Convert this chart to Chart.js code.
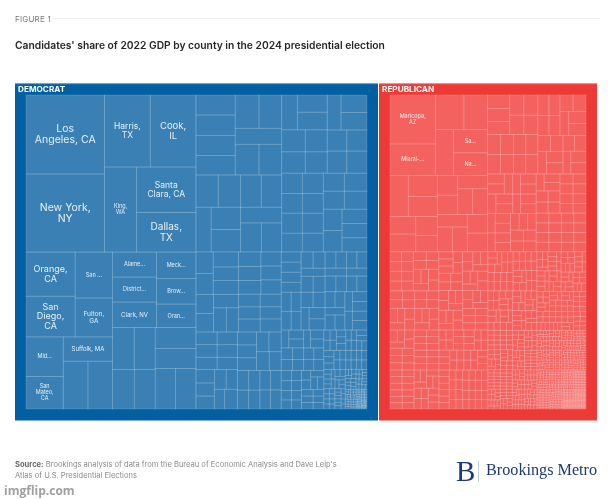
<!DOCTYPE html>
<html>
<head>
<meta charset="utf-8">
<title>Candidates' share of 2022 GDP by county</title>
<script src="https://cdn.jsdelivr.net/npm/chart.js@4"></script>
<style>
  html, body { margin: 0; background: #fff; }
  body { position: relative; width: 616px; height: 499px; overflow: hidden; font-family: Inter, sans-serif; }
  canvas { position: absolute; left: 0; top: 0; }
  .txt { position: absolute; white-space: nowrap; }
  #fig { left: 15px; top: 14px; font-size: 8px; color: #7a7a7a; letter-spacing: .2px; }
  #figline { position: absolute; left: 52px; top: 18px; width: 548px; height: 1px; background: #f0f0f0; }
  #title { left: 15px; top: 39px; font-size: 10.27px; font-weight: 600; color: #26262a; }
  #source { left: 15px; top: 459px; font-size: 7.55px; line-height: 11px; color: #8a8a8a; }
  #source b { color: #666; font-weight: 700; }
  #wm { left: 4px; top: 482px; font-size: 12px; font-weight: 700; color: #a0a0a0; font-family: "Open Sans", sans-serif; }
  #logoB { left: 456px; top: 455px; font: 29px "Liberation Serif", serif; color: #1d3a78; }
  #logoBar { position: absolute; left: 478px; top: 461px; width: 1px; height: 21px; background: #c3cbdc; }
  #logoT { left: 486px; top: 461px; font: 16.2px "Liberation Serif", serif; color: #1d3a78; }
</style>
</head>
<body>
<canvas id="chart" width="616" height="499"></canvas>
<div class="txt" id="fig">FIGURE 1</div><div id="figline"></div>
<div class="txt" id="title">Candidates' share of 2022 GDP by county in the 2024 presidential election</div>
<div class="txt" id="source"><b>Source:</b> Brookings analysis of data from the Bureau of Economic Analysis and Dave Leip's<br>Atlas of U.S. Presidential Elections</div>
<div class="txt" id="wm">imgflip.com</div>
<div class="txt" id="logoB">B</div><div id="logoBar"></div><div class="txt" id="logoT">Brookings Metro</div>
<script>
// tile labels, same order as the values (null = no label)
const demNames = ["Los\nAngeles, CA", "New York,\nNY", "Harris,\nTX", "Cook,\nIL", "King,\nWA", "Santa\nClara, CA", "Dallas,\nTX",
  "Orange,\nCA", "San\nDiego,\nCA", "San ...", "Fulton,\nGA", "Mid...", "San\nMateo,\nCA", "Suffolk, MA", null, null,
  "Alame...", "District...", "Clark, NV", "Meck...", "Brow...", "Oran..."];
const repNames = ["Maricopa,\nAZ", "Miami-...", null, null, null, "Sa...", "Na..."];

const demLargest = [6200, 6123, 3300, 3290, 2737, 2698, 2342,
  2170, 2000, 1720, 1460, 1473, 1212, 1200, 1179, 1179,
  1095, 1095, 1117, 1047, 1007, 928,
  903, 878, 857, 830, 846, 818, 826, 822];
const demMiddle = [786, 798, 802, 759, 790, 756, 742, 728, 697,
  720, 723, 680, 658, 659, 665, 659, 644, 600, 590,
  546, 514, 526, 519, 503, 484, 469,
  480, 452, 457, 413, 427, 432, 447,
  420, 404, 428, 412, 412, 385, 420, 393,
  378, 378, 409, 409, 400, 400, 360, 353, 353,
  373, 360, 382, 346, 346, 337, 324, 339, 310, 296,
  327, 315, 303, 287, 280, 290, 275, 263, 280, 266, 254,
  275, 270, 265, 262, 258, 254, 250, 246, 242, 238, 232, 220, 205,
  250, 248, 246, 246, 244, 242, 240, 225, 222, 218, 214, 210, 208, 204, 202];
const demSmall = [205, 203, 201, 200, 198, 196, 195, 193, 192, 190, 189, 188, 186, 185, 184, 183, 182, 181,
  178, 176, 174, 172, 170, 168, 166, 164, 162, 160, 158, 156, 154, 152, 150, 148, 146, 144, 142, 140, 138,
  138, 136, 134, 132, 130, 128, 126, 124, 122, 120, 118, 116, 114, 112,
  112, 108, 104, 100, 98, 96, 94, 92, 90, 88, 86, 84, 82, 80, 78, 76, 74, 72, 70, 68,
  64, 64, 64, 64, 64, 64, 64, 64, 64, 64, 56, 56, 56, 56, 56, 56, 56, 56, 56, 56, 50, 50, 50, 50, 50, 50, 50, 50, 50, 50,
  36, 36, 36, 36, 36, 36, 36, 36, 36, 36, 28, 28, 28, 28, 28, 28, 28, 28, 28, 28, 21, 21, 21, 21, 21, 21, 21, 21, 21, 21,
  20, 20, 20, 20, 20, 20, 20, 20, 20, 20, 15, 15, 15, 15, 15, 15, 15, 15, 15, 15, 15, 15, 15, 15, 15,
  9, 9, 9, 9, 9, 8, 8, 8, 8, 8, 8, 8, 8, 8, 8, 7, 7, 7, 7, 7, 7, 7, 7, 7, 7, 7, 7,
  5, 5, 5, 5, 5, 5, 5, 5, 5, 5, 4, 4, 4, 4, 4, 4, 4, 4, 4, 4, 4, 4, 4, 4, 4, 4, 4, 4, 4, 4,
  3, 3, 3, 3, 3, 3, 3, 3, 3, 3, 3, 3, 3, 3, 3, 3, 3, 3, 3, 3, 2, 2, 2, 2, 2, 2, 2, 2, 2, 2, 2, 2, 2, 2, 2, 2, 2, 2, 2, 2];

const repLargest = [2220, 1436, 990, 814, 828, 790, 774,
  750, 609, 580, 452, 455, 410, 352,
  400, 395, 390, 385, 380, 375, 370, 370, 375, 375,
  300, 295, 290, 285, 280, 275, 270, 265, 260, 255, 250, 245, 240, 235, 233,
  229, 226, 223, 220, 217, 214, 211, 208, 205, 202, 199, 196, 189, 186, 183, 180, 177, 174, 171, 168,
  170, 169, 167, 166, 165, 158, 157, 155, 154, 152, 151, 150, 149, 148, 146, 145, 144, 143, 142, 141, 140, 139, 138, 137, 136,
  135, 134, 133, 133, 132, 131, 130, 130, 129, 128, 127, 127, 126, 125, 125, 124, 124, 123, 122, 122, 121, 121, 120, 120, 119, 118, 118, 117, 117, 116];
const repMiddle = [114, 114, 114, 114, 114, 114, 114, 114, 114, 114, 110, 110, 110, 110, 110, 110, 110, 110, 110, 110,
  106, 106, 106, 106, 106, 106, 106, 106, 106, 106, 104, 104, 104, 104, 104,
  102, 102, 102, 102, 102, 102, 102, 102, 102, 102, 98, 98, 98, 98, 98, 98, 98, 98, 98, 98,
  94, 94, 94, 94, 94, 94, 94, 94, 94, 94, 90, 90, 90, 90, 90, 90, 90, 90, 90, 90,
  88, 88, 88, 88, 88, 88, 88, 88, 88, 88, 84, 84, 84, 84, 84, 84, 84, 84, 84, 84,
  80, 80, 80, 80, 80, 80, 80, 80, 80, 80, 76, 76, 76, 76, 76, 76, 76, 76, 76, 76, 74, 74, 74, 74, 74, 74, 74, 74,
  72, 72, 72, 72, 72, 72, 72, 72, 72, 72, 70, 70, 70, 70, 70, 70, 70, 70, 70, 70,
  68, 68, 68, 68, 68, 68, 68, 68, 68, 68, 66, 66, 66, 66, 66, 66, 66, 66, 66, 66,
  64, 64, 64, 64, 64, 64, 64, 64, 64, 64, 59, 59, 59, 59, 59, 59, 59, 59];
const repSmall = [58, 58, 58, 58, 58, 58, 58, 58, 58, 58, 58, 58, 58, 58, 58, 58, 58, 58, 58, 58,
  54, 54, 54, 54, 54, 54, 54, 54, 54, 54, 54, 54, 54, 54, 54, 54, 54, 54, 54, 54,
  50, 50, 50, 50, 50, 50, 50, 50, 50, 50, 50, 50, 50, 50, 50, 50, 50, 50, 50, 50,
  44, 44, 44, 44, 44, 44, 44, 44, 44, 44, 44, 44, 44, 44, 44,
  42, 42, 42, 42, 42, 42, 42, 42, 42, 42, 42, 42, 42, 42, 42, 42, 42, 42, 42, 42,
  39, 39, 39, 39, 39, 39, 39, 39, 39, 39, 39, 39, 39, 39, 39, 39, 39, 39, 39, 39,
  36, 36, 36, 36, 36, 36, 36, 36, 36, 36, 36, 36, 36, 36, 36, 36, 36, 36, 36, 36,
  34, 34, 34, 34, 34, 34, 34, 34, 34, 34, 34, 34, 34, 34, 34, 34, 34, 34, 34, 34,
  32, 32, 32, 32, 32, 32, 32, 32, 32, 32, 32, 32, 32, 32, 32, 32, 32, 32, 32, 32,
  28, 28, 28, 28, 28,
  30, 30, 30, 30, 30, 30, 30, 30, 30, 30, 30, 30, 30, 30, 30, 30, 30, 30, 30, 30,
  27, 27, 27, 27, 27, 27, 27, 27, 27, 27, 27, 27, 27, 27, 27, 27, 27, 27, 27, 27,
  25, 25, 25, 25, 25, 25, 25, 25, 25, 25, 25, 25, 25, 25, 25, 25, 25, 25, 25, 25,
  20, 20, 20, 20, 20, 20, 20, 20, 20, 20, 20, 20, 20, 20, 20,
  20, 20, 20, 20, 20, 20, 20, 20, 20, 20, 20, 20, 20, 20, 20, 20, 20, 20, 20, 20,
  19, 19, 19, 19, 19, 19, 19, 19, 19, 19, 19, 19, 19, 19, 19, 19, 19, 19, 19, 19,
  18, 18, 18, 18, 18, 18, 18, 18, 18, 18, 18, 18, 18, 18, 18, 18, 18, 18, 18, 18,
  16, 16, 16, 16, 16, 16, 16, 16, 16, 16, 16, 16, 16, 16, 16, 16, 16, 16, 16, 16,
  14, 14, 14, 14, 14, 14, 14, 14, 14, 14, 14, 14, 14, 14, 14, 14, 14, 14, 14, 14,
  13, 13, 13, 13, 13, 13, 13, 13, 13, 13, 13, 13, 13, 13, 13];
const repTiny = [13, 13, 13, 13, 13, 13, 13, 13, 13, 13, 13, 13, 13, 13, 13, 13, 13, 13, 13, 13,
  12, 12, 12, 12, 12, 12, 12, 12, 12, 12, 12, 12, 12, 12, 12, 12, 12, 12, 12, 12,
  11, 11, 11, 11, 11, 11, 11, 11, 11, 11, 11, 11, 11, 11, 11, 11, 11, 11, 11, 11,
  10, 10, 10, 10, 10, 10, 10, 10, 10, 10, 10, 10, 10, 10, 10, 10, 10, 10, 10, 10,
  10, 10, 10, 10, 10, 10, 10, 10, 10, 10, 10, 10, 10, 10, 10, 10, 10, 10, 10, 10,
  9, 9, 9, 9, 9, 9, 9, 9, 9, 9, 9, 9, 9, 9, 9, 9, 9, 9, 9, 9,
  9, 9, 9, 9, 9, 9, 9, 9, 9, 9, 9, 9, 9, 9, 9, 9, 9, 9, 9, 9,
  8, 8, 8, 8, 8, 8, 8, 8, 8, 8, 8, 8, 8, 8, 8, 8, 8, 8, 8, 8,
  8, 8, 8, 8, 8, 8, 8, 8, 8, 8, 8, 8, 8, 8, 8, 8, 8, 8, 8, 8,
  7, 7, 7, 7, 7, 7, 7, 7, 7, 7, 7, 7, 7, 7, 7, 7, 7, 7, 7, 7,
  7, 7, 7, 7, 7, 7, 7, 7, 7, 7, 7, 7, 7, 7, 7, 7, 7, 7, 7, 7,
  6, 6, 6, 6, 6, 6, 6, 6, 6, 6, 6, 6, 6, 6, 6, 6, 6, 6, 6, 6,
  6, 6, 6, 6, 6, 6, 6, 6, 6, 6, 6, 6, 6, 6, 6, 6, 6, 6, 6, 6,
  5, 5, 5, 5, 5, 5, 5, 5, 5, 5, 5, 5, 5, 5, 5, 5, 5, 5, 5, 5,
  5, 5, 5, 5, 5, 5, 5, 5, 5, 5, 5, 5, 5, 5, 5, 5, 5, 5, 5, 5,
  5, 5, 5, 5, 5, 5, 5, 5, 5, 5, 5, 5, 5, 5, 5, 5, 5, 5, 5, 5,
  5, 5, 5, 5, 5, 5, 5, 5, 5, 5, 5, 5, 5, 5, 5, 5, 5, 5, 5, 5,
  4, 4, 4, 4, 4, 4, 4, 4, 4, 4, 4, 4, 4, 4, 4, 4, 4, 4, 4, 4,
  4, 4, 4, 4, 4, 4, 4, 4, 4, 4, 4, 4, 4, 4, 4, 4, 4, 4, 4, 4,
  4, 4, 4, 4, 4, 4, 4,
  4, 4, 4, 4, 4, 4, 4, 4, 4, 4, 4, 4, 4, 4, 4, 4, 4, 4, 4, 4,
  4, 4, 4, 4, 4, 4, 4, 4, 4, 4, 4, 4, 4, 4, 4, 4, 4, 4, 4, 4,
  4, 4, 4, 4, 4, 4, 4, 4, 4, 4, 4, 4, 4, 4, 4, 4, 4, 4, 4, 4,
  3, 3, 3, 3, 3, 3, 3, 3, 3, 3, 3, 3, 3, 3, 3, 3, 3, 3, 3, 3,
  3, 3, 3, 3, 3, 3, 3, 3, 3, 3, 3, 3, 3, 3, 3, 3, 3, 3, 3, 3,
  3, 3, 3, 3, 3, 3, 3, 3, 3, 3, 3, 3, 3, 3, 3, 3, 3, 3, 3, 3,
  3, 3, 3, 3, 3, 3, 3, 3, 3, 3, 3, 3, 3, 3, 3, 3, 3, 3, 3, 3,
  3, 3, 3, 3, 3, 3, 3, 3, 3, 3, 3, 3, 3, 3, 3, 3, 3, 3, 3, 3,
  3, 3, 3, 3, 3, 3, 3, 3, 3, 3, 3, 3, 3, 3, 3, 3, 3, 3, 3, 3,
  2, 2, 2, 2, 2, 2, 2, 2, 2, 2, 2, 2, 2, 2, 2, 2, 2, 2, 2, 2,
  2, 2, 2, 2, 2, 2, 2, 2, 2, 2, 2, 2, 2, 2, 2, 2, 2, 2, 2, 2,
  2, 2, 2, 2, 2, 2, 2, 2, 2, 2, 2, 2, 2, 2, 2, 2, 2, 2, 2, 2,
  2, 2, 2, 2, 2, 2, 2, 2, 2, 2, 2, 2, 2, 2, 2, 2, 2, 2, 2, 2,
  2, 2, 2, 2, 2, 2, 2, 2, 2, 2, 2, 2, 2, 2, 2, 2, 2, 2, 2, 2,
  2, 2, 2, 2, 2, 2, 2, 2, 2, 2, 2, 2, 2, 2, 2, 2, 2, 2, 2, 2,
  2, 2, 2, 2, 2, 2, 2, 2, 2, 2, 2, 2, 2, 2, 2, 2, 2, 2, 2, 2,
  2, 2, 2, 2, 2, 2, 2, 2, 2, 2, 2, 2, 2, 2, 2, 2, 2, 2, 2, 2,
  2, 2, 2, 2, 2, 2, 2, 2, 2, 2, 2, 2, 2, 2, 2, 2, 2, 2, 2, 2];

// panel frames in scale units (the scales run 1:1 with the page)
const DEM_PANEL = { label: "DEMOCRAT", x0: 15, x1: 378, y0: 83.3, y1: 420.5, ix0: 26, ix1: 367, iy0: 95, iy1: 409,
  frame: "#0060a2", fill: "#3a80b5", edge: "rgba(255,255,255,0.17)" };
const REP_PANEL = { label: "REPUBLICAN", x0: 379, x1: 597, y0: 83.3, y1: 420.5, ix0: 390, ix1: 586, iy0: 95, iy1: 409,
  frame: "#ee3a36", fill: "#f3625f", edge: "rgba(255,255,255,0.17)" };

// label font size per county name
const LABEL_SIZES = { "Los\nAngeles, CA": 10.5, "New York,\nNY": 10.5, "Harris,\nTX": 8.5, "Cook,\nIL": 9.5, "King,\nWA": 5.5,
  "Santa\nClara, CA": 8.5, "Dallas,\nTX": 10, "Orange,\nCA": 9, "San\nDiego,\nCA": 9, "Fulton,\nGA": 6.5,
  "Suffolk, MA": 6, "Clark, NV": 6, "San\nMateo,\nCA": 5.5, "Maricopa,\nAZ": 5.5 };

// binary treemap: split the run where the running sum is nearest half, cut across the longer side
function layoutTiles(values, names, box) {
  const sums = [0];
  values.forEach((v, i) => sums.push(sums[i] + v));
  const tiles = [];

  function split(i, j, x0, y0, x1, y1) {
    if (i >= j - 1) {
      tiles.push({ x: x0, y: y0, x1: x1, y1: y1, v: values[i], name: names[i] || null });
      return;
    }
    const total = sums[j] - sums[i];
    const target = total / 2 + sums[i];
    let k = i + 1;
    let hi = j - 1;
    while (k < hi) {
      const mid = (k + hi) >>> 1;
      if (sums[mid] < target) k = mid + 1;
      else hi = mid;
    }
    if (target - sums[k - 1] < sums[k] - target && i + 1 < k) k--;
    const left = sums[k] - sums[i];
    if (x1 - x0 > y1 - y0) {
      const xk = x0 + (x1 - x0) * left / total;
      split(i, k, x0, y0, xk, y1);
      split(k, j, xk, y0, x1, y1);
    } else {
      const yk = y0 + (y1 - y0) * left / total;
      split(i, k, x0, y0, x1, yk);
      split(k, j, x0, yk, x1, y1);
    }
  }

  split(0, values.length, box.ix0, box.iy0, box.ix1, box.iy1);
  return tiles;
}

const demValues = demLargest.concat(demMiddle, demSmall);
const repValues = repLargest.concat(repMiddle, repSmall, repTiny);

const tilePlugin = {
  id: "tiles",
  beforeDatasetsDraw(chart) {
    const ctx = chart.ctx;
    const sx = chart.scales.x;
    const sy = chart.scales.y;
    ctx.save();
    chart.data.datasets.forEach((ds) => {
      const p = ds.panel;
      const left = sx.getPixelForValue(p.x0);
      const top = sy.getPixelForValue(p.y0);
      ctx.fillStyle = p.frame;
      ctx.fillRect(left, top, sx.getPixelForValue(p.x1) - left, sy.getPixelForValue(p.y1) - top);
      ctx.fillStyle = "rgba(255,255,255,0.25)";
      ctx.fillRect(left, top, sx.getPixelForValue(p.x1) - left, 1);

      ctx.fillStyle = "#fff";
      ctx.font = "700 8.2px Inter, sans-serif";
      ctx.textAlign = "left";
      ctx.textBaseline = "middle";
      ctx.fillText(p.label, left + 3, top + 6);

      ctx.fillStyle = p.fill;
      ctx.fillRect(sx.getPixelForValue(p.ix0), sy.getPixelForValue(p.iy0),
        sx.getPixelForValue(p.ix1) - sx.getPixelForValue(p.ix0), sy.getPixelForValue(p.iy1) - sy.getPixelForValue(p.iy0));

      ctx.strokeStyle = p.edge;
      ctx.lineWidth = 0.8;
      ds.data.forEach((t) => {
        const x = sx.getPixelForValue(t.x);
        const y = sy.getPixelForValue(t.y);
        ctx.strokeRect(x, y, sx.getPixelForValue(t.x1) - x, sy.getPixelForValue(t.y1) - y);
      });

      ctx.textAlign = "center";
      ctx.fillStyle = "rgba(255,255,255,0.88)";
      ds.data.forEach((t) => {
        if (!t.name) return;
        const size = LABEL_SIZES[t.name] || 5.5;
        const lines = t.name.split("\n");
        const lh = size * 1.08;
        const cx = sx.getPixelForValue((t.x + t.x1) / 2);
        const cy = sy.getPixelForValue((t.y + t.y1) / 2);
        ctx.font = size + "px Inter, sans-serif";
        lines.forEach((line, i) => {
          ctx.fillText(line, cx, cy + (i - (lines.length - 1) / 2) * lh);
        });
      });
    });
    ctx.restore();
  },
};

new Chart(document.getElementById("chart"), {
  type: "scatter",
  data: {
    datasets: [
      { label: "Democrat", panel: DEM_PANEL, data: layoutTiles(demValues, demNames, DEM_PANEL), pointRadius: 0 },
      { label: "Republican", panel: REP_PANEL, data: layoutTiles(repValues, repNames, REP_PANEL), pointRadius: 0 },
    ],
  },
  options: {
    responsive: false,
    animation: false,
    layout: { padding: 0 },
    plugins: { legend: { display: false }, tooltip: { enabled: false } },
    scales: {
      x: { type: "linear", min: 0, max: 616, display: false },
      y: { type: "linear", min: 0, max: 499, reverse: true, display: false },
    },
  },
  plugins: [tilePlugin],
});
</script>
</body>
</html>
